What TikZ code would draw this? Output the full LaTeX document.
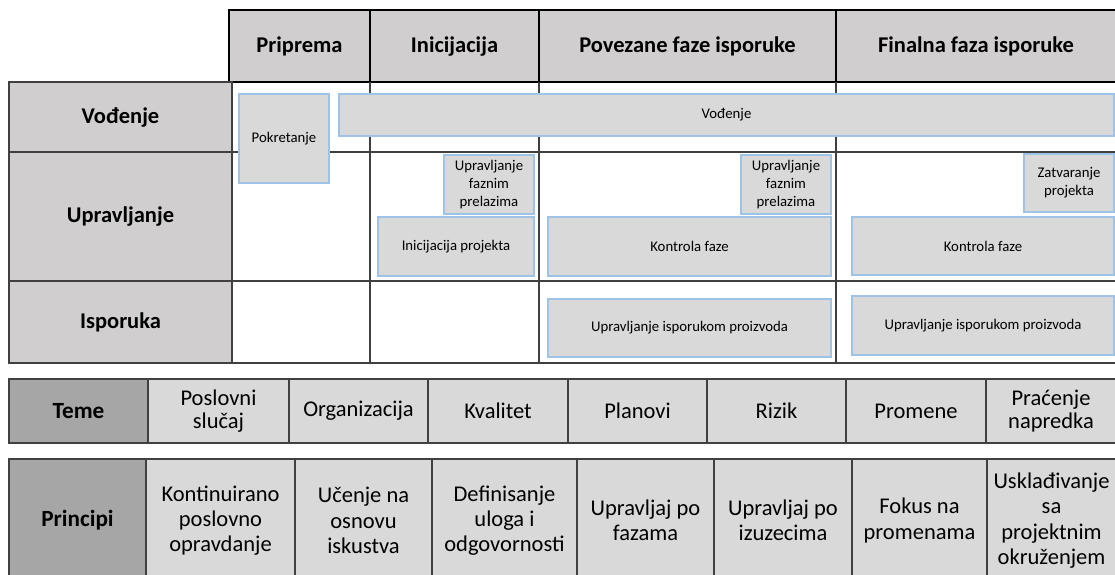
\documentclass[tikz,border=0pt]{standalone}
\usepackage{fontspec}
\setmainfont{Carlito}
\definecolor{headgray}{HTML}{D0CECE}
\definecolor{boxgray}{HTML}{D9D9D9}
\definecolor{labelgray}{HTML}{A6A6A6}
\definecolor{boxblue}{HTML}{9DC3E6}
\definecolor{linegray}{HTML}{404040}
\tikzset{
  phase/.style={draw=black,line width=1.4pt,fill=headgray},
  rowhead/.style={draw=linegray,line width=1.1pt,fill=headgray},
  gridline/.style={draw=linegray,line width=1.1pt},
  process/.style={draw=boxblue,line width=0.9pt,fill=boxgray},
  cell/.style={draw=linegray,line width=1.1pt,fill=boxgray},
  celllabel/.style={draw=linegray,line width=1.1pt,fill=labelgray},
  bigtxt/.style={font=\fontsize{16}{19}\selectfont\bfseries,text height=1.8ex,text depth=0ex},
  smalltxt/.style={font=\fontsize{10.5}{13}\selectfont,align=center},
  themetxt/.style={font=\fontsize{16}{16}\selectfont,align=center},
  principtxt/.style={font=\fontsize{16}{18}\selectfont,align=center},
  labeltxt/.style={font=\fontsize{16.5}{19}\selectfont\bfseries}
}

\begin{document}
\begin{tikzpicture}[x=0.025cm,y=-0.025cm]
  \useasboundingbox (0,0) rectangle (1115,574);

  % faze
  \draw[phase] (229,10) rectangle (370,82) node[midway,bigtxt] (priprema) {Priprema};
  \draw[phase] (370,10) rectangle (539,82) node[midway,bigtxt] (inicijacijafaza) {Inicijacija};
  \draw[phase] (539,10) rectangle (836,82) node[midway,bigtxt] (povezane) {Povezane faze isporuke};
  \draw[phase] (836,10) rectangle (1116,82) node[midway,bigtxt] (finalna) {Finalna faza isporuke};

  % nivoi
  \draw[rowhead] (9,82)  rectangle (232,152) node[midway,bigtxt] (vodjenje) {Vođenje};
  \draw[rowhead] (9,152) rectangle (232,281) node[midway,bigtxt] (upravljanje) {Upravljanje};
  \draw[rowhead] (9,281) rectangle (232,363) node[midway,bigtxt] (isporuka) {Isporuka};

  \draw[gridline] (232,152) -- (1116,152);
  \draw[gridline] (232,281) -- (1116,281);
  \draw[gridline] (232,363) -- (1116,363);
  \draw[gridline] (370,82) -- (370,363);
  \draw[gridline] (539,82) -- (539,363);
  \draw[gridline] (836,82) -- (836,363);

  % procesi
  \draw[process] (239,94)  rectangle (329,183)  node[midway,smalltxt] (pokretanje) {Pokretanje};
  \draw[process] (339,94)  rectangle (1114,136) node[midway,smalltxt] (vodjenjebox) {Vođenje};
  \draw[process] (444,155) rectangle (534,214)  node[midway,smalltxt] (prelaz1) {Upravljanje\\faznim\\prelazima};
  \draw[process] (378,217) rectangle (534,276)  node[midway,smalltxt] (inicijacija) {Inicijacija projekta};
  \draw[process] (741,155) rectangle (831,214)  node[midway,smalltxt] (prelaz2) {Upravljanje\\faznim\\prelazima};
  \draw[process] (548,217) rectangle (831,276)  node[midway,smalltxt] (kontrola1) {Kontrola faze};
  \draw[process] (1024,154) rectangle (1114,212) node[midway,smalltxt] (zatvaranje) {Zatvaranje\\projekta};
  \draw[process] (852,217) rectangle (1114,275) node[midway,smalltxt] (kontrola2) {Kontrola faze};
  \draw[process] (548,299) rectangle (831,357)  node[midway,smalltxt] (isporuka1) {Upravljanje isporukom proizvoda};
  \draw[process] (852,296) rectangle (1114,355) node[midway,smalltxt] (isporuka2) {Upravljanje isporukom proizvoda};

  % teme
  \draw[celllabel] (9,379) rectangle (148,443) node[midway,labeltxt] (teme) {Teme};
  \draw[cell] (148,379) rectangle (289,443) node[midway,themetxt] (poslovni) {Poslovni\\slučaj};
  \draw[cell] (289,379) rectangle (428,443) node[midway,themetxt] (organizacija) {Organizacija};
  \draw[cell] (428,379) rectangle (568,443) node[midway,themetxt] (kvalitet) {Kvalitet};
  \draw[cell] (568,379) rectangle (707,443) node[midway,themetxt] (planovi) {Planovi};
  \draw[cell] (707,379) rectangle (846,443) node[midway,themetxt] (rizik) {Rizik};
  \draw[cell] (846,379) rectangle (986,443) node[midway,themetxt] (promene) {Promene};
  \draw[cell] (986,379) rectangle (1116,443) node[midway,themetxt] (pracenje) {Praćenje\\napredka};

  % principi
  \draw[celllabel] (9,459) rectangle (146,582) node[midway,labeltxt] (principi) {Principi};
  \draw[cell] (146,459) rectangle (295,582) node[midway,principtxt] (kontinuirano) {Kontinuirano\\poslovno\\opravdanje};
  \draw[cell] (295,459) rectangle (432,582) node[midway,principtxt] (ucenje) {Učenje na\\osnovu\\iskustva};
  \draw[cell] (432,459) rectangle (577,582) node[midway,principtxt] (uloge) {Definisanje\\uloga i\\odgovornosti};
  \draw[cell] (577,459) rectangle (714,582) node[midway,principtxt] (pofazama) {Upravljaj po\\fazama};
  \draw[cell] (714,459) rectangle (852,582) node[midway,principtxt] (poizuzecima) {Upravljaj po\\izuzecima};
  \draw[cell] (852,459) rectangle (987,582) node[midway,principtxt] (fokus) {Fokus na\\promenama};
  \draw[cell] (987,459) rectangle (1116,582) node[midway,principtxt] (uskladjivanje) {Usklađivanje\\sa\\projektnim\\okruženjem};
\end{tikzpicture}
\end{document}
